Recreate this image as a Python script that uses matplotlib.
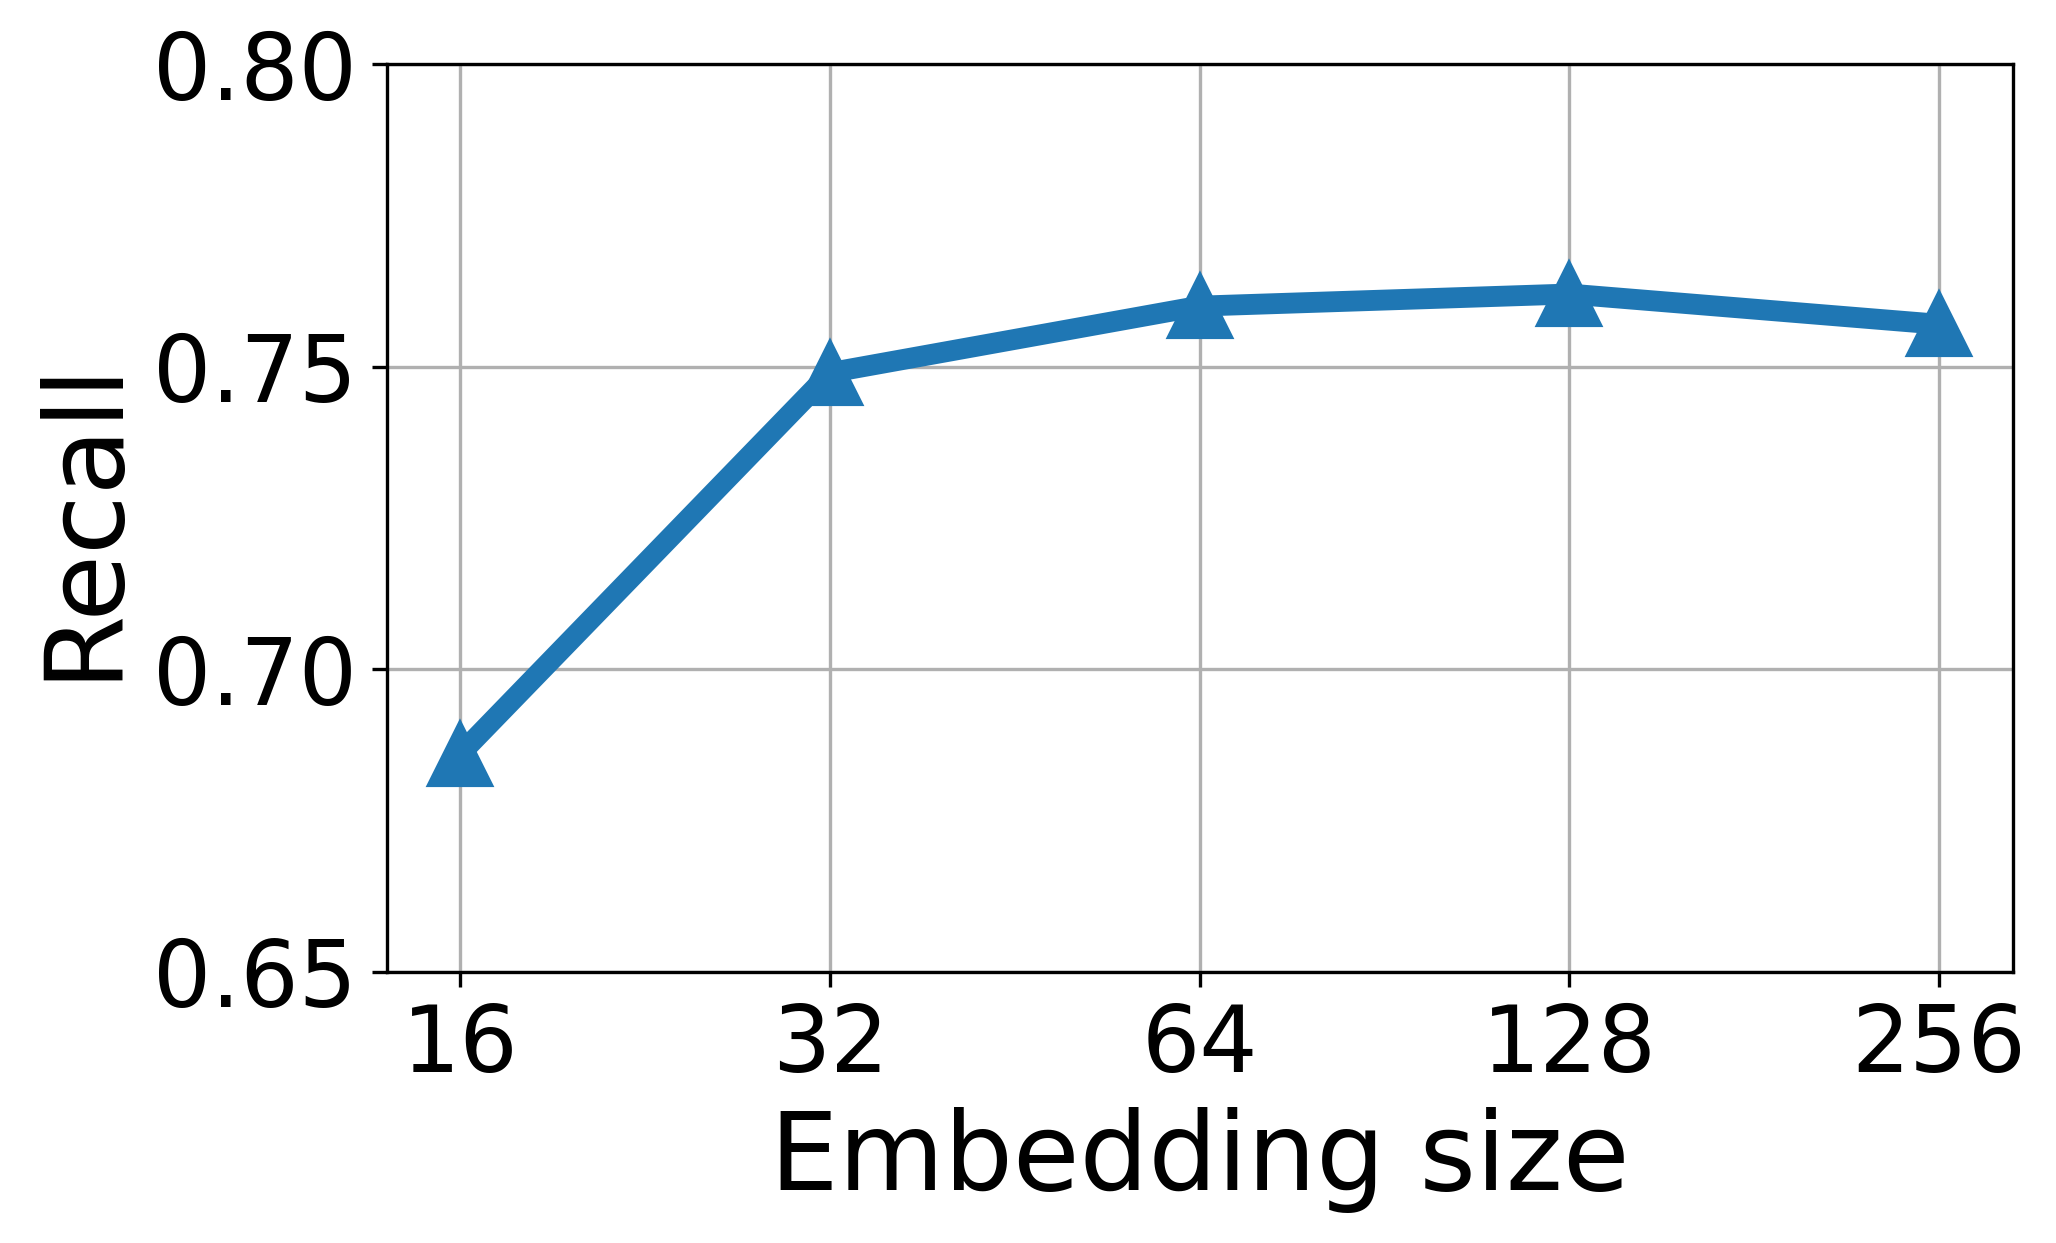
import matplotlib
matplotlib.use("Agg")
import matplotlib.pyplot as plt

# data
sizes = ["16", "32", "64", "128", "256"]
recall = [0.686, 0.749, 0.760, 0.762, 0.757]

fig, ax = plt.subplots(figsize=(2056 / 300, 1243 / 300), dpi=300)
fig.subplots_adjust(left=0.188, right=0.979, bottom=0.2184, top=0.9484)

ax.plot(sizes, recall, marker="^", color="#1f77b4", linewidth=5, markersize=15)

ax.set_ylim(0.65, 0.80)
ax.set_yticks([0.65, 0.70, 0.75, 0.80])
ax.set_yticklabels(["0.65", "0.70", "0.75", "0.80"])
ax.tick_params(axis="both", labelsize=22)
ax.set_xlabel("Embedding size", fontsize=26)
ax.set_ylabel("Recall", fontsize=26)
ax.grid(True)

fig.savefig("out.png", dpi=300)
